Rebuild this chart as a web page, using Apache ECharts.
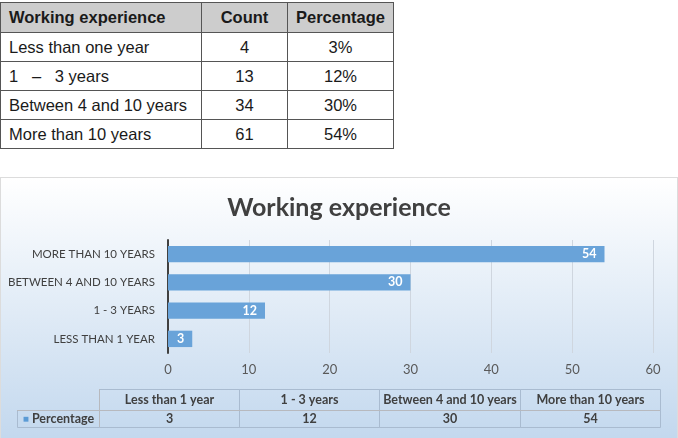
<!DOCTYPE html>
<html>
<head>
<meta charset="utf-8">
<script src="https://cdn.jsdelivr.net/npm/echarts@6/dist/echarts.min.js"></script>
<style>
html,body{margin:0;padding:0;background:#fff;}
#wrap{position:relative;width:678px;height:438px;overflow:hidden;}
#tbl{position:absolute;left:0;top:2px;border-collapse:collapse;font-family:"Liberation Sans",Arial,sans-serif;font-size:16.5px;color:#1a1a1a;}
#tbl td,#tbl th{border:1px solid #555;padding:0 8px;height:28px;}
#tbl th{background:#cdcdcd;font-weight:bold;height:29px;}
#tbl .c{text-align:center;}
#tbl .l{text-align:left;}
#chart{position:absolute;left:0;top:177px;width:678px;height:261px;box-sizing:border-box;border:1px solid #dcdcdc;border-bottom:none;}
</style>
</head>
<body>
<div id="wrap">
<table id="tbl"></table>
<div id="chart"></div>
</div>
<script>
//原始表格数据
var headTop=['Working experience','Count','Percentage'];
var rowNames=['Less than one year','1 \u00a0 \u2013 \u00a0 3 years','Between 4 and 10 years','More than 10 years'];
var counts=[4,13,34,61];
var percents=['3%','12%','30%','54%'];

//图表数据
var title='Working experience';
var categories=['Less than 1 year','1 - 3 years','Between 4 and 10 years','More than 10 years'];
var percentage=[3,12,30,54];
var seriesName='Percentage';
var xTicks=[0,10,20,30,40,50,60];

//生成上方表格
var html='<tr><th class="l" style="width:184px">'+headTop[0]+'</th><th class="c" style="width:69px">'+headTop[1]+'</th><th class="c" style="width:89px">'+headTop[2]+'</th></tr>';
for(var i=0;i<rowNames.length;i++){
    html+='<tr><td class="l">'+rowNames[i]+'</td><td class="c">'+counts[i]+'</td><td class="c">'+percents[i]+'</td></tr>';
}
document.getElementById('tbl').innerHTML=html;

//条形图
var font='Lato';
var myChart=echarts.init(document.getElementById('chart'));
var option={
    backgroundColor:{
        type:'linear',x:0,y:0,x2:0,y2:1,
        colorStops:[{offset:0,color:'#ffffff'},{offset:1,color:'#c3d8ee'}]
    },
    title:{
        text:title,
        left:'center',
        top:12,
        textStyle:{fontFamily:font,fontSize:25,fontWeight:'bold',color:'#404040'}
    },
    grid:{left:167,right:24,top:62,height:113,containLabel:false},
    xAxis:{
        type:'value',
        min:xTicks[0],
        max:xTicks[xTicks.length-1],
        interval:10,
        axisLine:{show:false},
        axisTick:{show:false},
        splitLine:{lineStyle:{color:'#cfd6df',width:1}},
        axisLabel:{margin:10,fontFamily:font,fontSize:13,color:'#595959'}
    },
    yAxis:{
        type:'category',
        data:categories.map(function(c){return c.toUpperCase();}),
        axisLine:{show:true,lineStyle:{color:'#404040',width:2}},
        axisTick:{show:false},
        axisLabel:{margin:13,fontFamily:font,fontSize:11.5,color:'#404040'}
    },
    matrix:{
        left:16,
        top:211,
        width:643,
        height:38,
        backgroundStyle:{borderWidth:0,color:'transparent'},
        x:{
            data:categories,
            levelSize:21,
            label:{fontFamily:font,fontSize:12.5,fontWeight:'bold',color:'#404040',overflow:'none'},
            itemStyle:{borderColor:'#a9bbd0',borderWidth:1,color:'transparent'}
        },
        y:{
            data:['{sq|\u25a0} '+seriesName],
            levelSize:82,
            label:{fontFamily:font,fontSize:12.5,fontWeight:'bold',color:'#404040',overflow:'none',
                rich:{sq:{color:'#5b9bd5',fontSize:10}}},
            itemStyle:{borderColor:'#a9bbd0',borderWidth:1,color:'transparent'}
        },
        corner:{itemStyle:{borderWidth:0,color:'transparent'}},
        body:{
            data:percentage.map(function(v,i){return {coord:[i,0],value:v};}),
            label:{fontFamily:font,fontSize:12.5,fontWeight:'bold',color:'#404040'},
            itemStyle:{borderColor:'#a9bbd0',borderWidth:1,color:'transparent'}
        }
    },
    series:[{
        name:seriesName,
        type:'bar',
        data:percentage,
        barCategoryGap:'42%',
        itemStyle:{color:'#69a3d9'},
        label:{
            show:true,
            position:'insideRight',
            distance:8,
            fontFamily:font,
            fontSize:12.5,
            fontWeight:'bold',
            color:'#ffffff'
        }
    }]
};
myChart.setOption(option);
</script>
</body>
</html>
